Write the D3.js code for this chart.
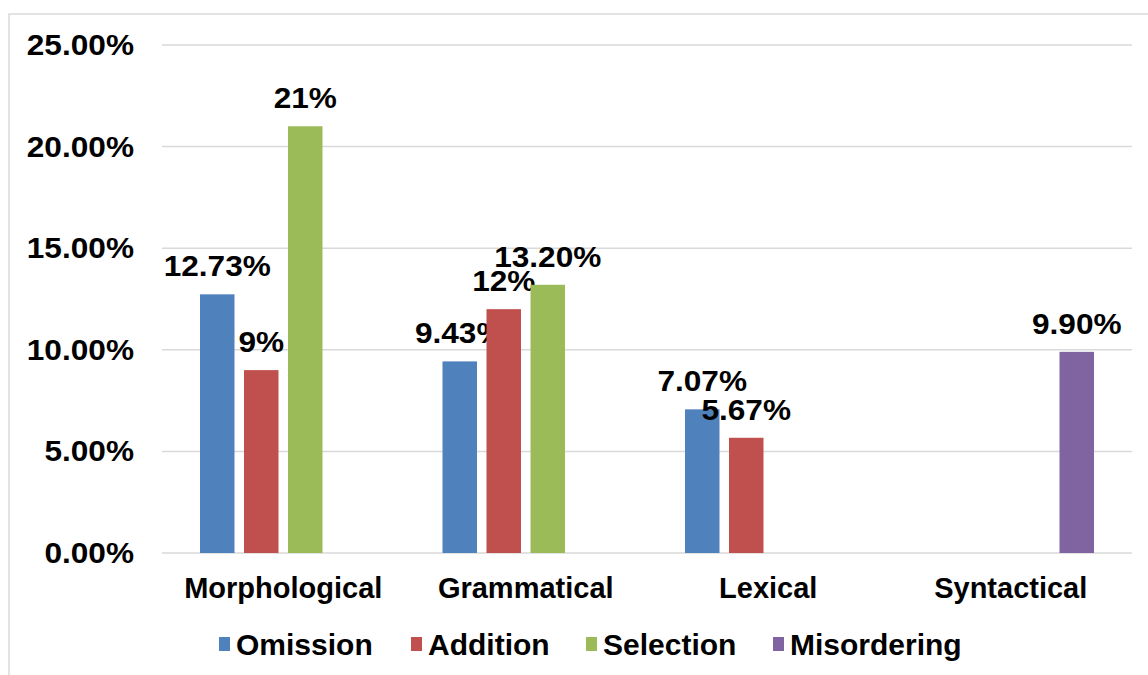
<!DOCTYPE html>
<html>
<head>
<meta charset="utf-8">
<script src="https://cdn.jsdelivr.net/npm/d3@7"></script>
<style>
  body { margin: 0; background: #fff; }
  svg text { font-family: "Liberation Sans", Arial, sans-serif; font-weight: bold; fill: #000; }
</style>
</head>
<body>
<svg id="chart" width="1148" height="675"></svg>
<script>
const categories = ['Morphological', 'Grammatical', 'Lexical', 'Syntactical']
const seriesNames = ['Omission', 'Addition', 'Selection', 'Misordering']
const omission = [12.73, 9.43, 7.07, null]
const addition = [9, 12, 5.67, null]
const selection = [21, 13.20, null, null]
const misordering = [null, null, null, 9.90]
const valueLabels = [
  ['12.73%', '9.43%', '7.07%', ''],
  ['9%', '12%', '5.67%', ''],
  ['21%', '13.20%', '', ''],
  ['', '', '', '9.90%']
]
const yTicks = [0, 5, 10, 15, 20, 25]
const colors = ['#4F81BD', '#C0504D', '#9BBB59', '#8064A2']

const allSeries = [omission, addition, selection, misordering]

const svg = d3.select('#chart')
const fs = 29
const numStretch = 1.09

// outer chart frame
svg.append('rect')
  .attr('x', 9).attr('y', 14)
  .attr('width', 1160).attr('height', 700)
  .attr('fill', 'none')
  .attr('stroke', '#d9d9d9')
  .attr('stroke-width', 1.5)

const plotLeft = 162, plotRight = 1132, plotTop = 45, plotBottom = 553
const groupW = 166.5

const x = d3.scaleBand().domain(categories).range([plotLeft, plotRight])
const xs = d3.scaleBand().domain(seriesNames)
  .range([0, groupW]).paddingInner(0.216)
const y = d3.scaleLinear().domain([0, 25]).range([plotBottom, plotTop])

// gridlines
svg.append('g')
  .selectAll('line')
  .data(yTicks)
  .join('line')
  .attr('x1', plotLeft).attr('x2', plotRight)
  .attr('y1', d => y(d)).attr('y2', d => y(d))
  .attr('stroke', '#d9d9d9')
  .attr('stroke-width', 1.5)

// y tick labels
svg.append('g')
  .selectAll('text')
  .data(yTicks)
  .join('text')
  .attr('transform', d => `translate(134,${y(d) + 10}) scale(${numStretch},1)`)
  .attr('text-anchor', 'end')
  .attr('font-size', fs)
  .text(d => d.toFixed(2) + '%')

// bars
allSeries.forEach(function (vals, si) {
  let g = svg.append('g')
  let pts = categories.map((c, i) => ({ c: c, v: vals[i], label: valueLabels[si][i] }))
    .filter(d => d.v != null)
  let x0 = c => x(c) + (x.bandwidth() - groupW) / 2 + xs(seriesNames[si])

  g.selectAll('rect')
    .data(pts)
    .join('rect')
    .attr('x', d => x0(d.c))
    .attr('y', d => y(d.v))
    .attr('width', xs.bandwidth())
    .attr('height', d => y(0) - y(d.v))
    .attr('fill', colors[si])

  g.selectAll('text')
    .data(pts)
    .join('text')
    .attr('transform', d => `translate(${x0(d.c) + xs.bandwidth() / 2},${y(d.v) - 18}) scale(${numStretch},1)`)
    .attr('text-anchor', 'middle')
    .attr('font-size', fs)
    .text(d => d.label)
})

// category labels
svg.append('g')
  .selectAll('text')
  .data(categories)
  .join('text')
  .attr('x', d => x(d) + x.bandwidth() / 2)
  .attr('y', 598)
  .attr('text-anchor', 'middle')
  .attr('font-size', fs)
  .text(d => d)

// legend
const legendX = [219, 411, 586, 773]
const legend = svg.append('g')
seriesNames.forEach(function (name, i) {
  legend.append('rect')
    .attr('x', legendX[i]).attr('y', 637)
    .attr('width', 11).attr('height', 14)
    .attr('fill', colors[i])
  legend.append('text')
    .attr('transform', `translate(${legendX[i] + 17},655) scale(1.035,1)`)
    .attr('font-size', fs)
    .text(name)
})
</script>
</body>
</html>
